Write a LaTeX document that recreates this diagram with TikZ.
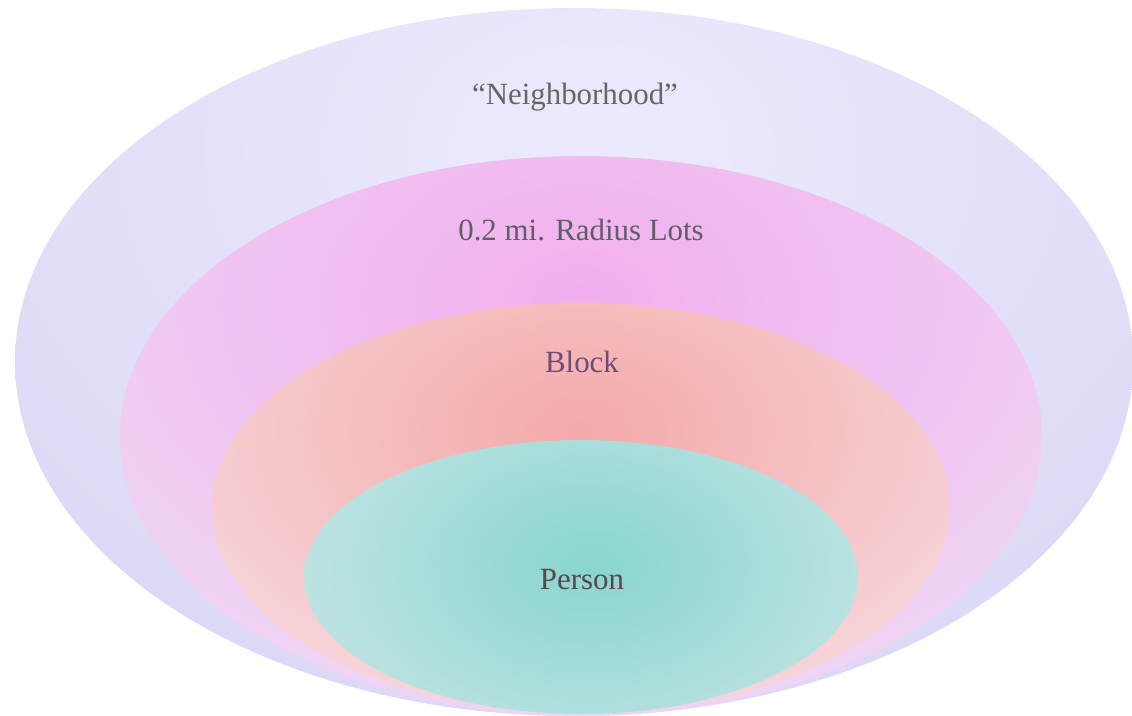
\documentclass[tikz,border=0pt]{standalone}
\usepackage{fontspec}
\setmainfont{Liberation Serif}
\definecolor{nbE}{HTML}{D3D0F2}
\definecolor{nbC}{HTML}{ECEBFD}
\definecolor{rlE}{HTML}{EEDFF6}
\definecolor{rlC}{HTML}{F2AEEE}
\definecolor{blE}{HTML}{F7E5EB}
\definecolor{blC}{HTML}{F4A9A8}
\definecolor{peE}{HTML}{E8EEF0}
\definecolor{peC}{HTML}{88D5D0}
\definecolor{tGray}{HTML}{666666}
\definecolor{tGray2}{HTML}{5E5E66}
\definecolor{tPurp}{HTML}{6A4E78}
\definecolor{tBrown}{HTML}{584848}
\pgfdeclareradialshading{shNb}{\pgfpoint{0bp}{0bp}}{color(0bp)=(nbC); color(25bp)=(nbE); color(50bp)=(nbE)}
\pgfdeclareradialshading{shRl}{\pgfpoint{0bp}{0bp}}{color(0bp)=(rlC); color(25bp)=(rlE); color(50bp)=(rlE)}
\pgfdeclareradialshading{shBl}{\pgfpoint{0bp}{0bp}}{color(0bp)=(blC); color(25bp)=(blE); color(50bp)=(blE)}
\pgfdeclareradialshading{shPe}{\pgfpoint{0bp}{0bp}}{color(0bp)=(peC); color(25bp)=(peE); color(50bp)=(peE)}
\tikzset{
  lbl/.style={font=\fontsize{31}{36}\selectfont, inner sep=0pt, anchor=center}
}
\begin{document}
\begin{tikzpicture}[x=1bp,y=-1bp]
\useasboundingbox (0,0) rectangle (1132,716);
% Neighborhood
\begin{scope}
  \clip (574,362) ellipse (559 and 354);
  \shade[shading=shNb] (590-1100,150-840) rectangle (590+1100,150+840);
\end{scope}
% Radius lots
\begin{scope}
  \clip (581,436) ellipse (461 and 280);
  \shade[shading=shRl] (580-780,300-540) rectangle (580+780,300+540);
\end{scope}
% Block
\begin{scope}
  \clip (581,508) ellipse (369 and 205);
  \shade[shading=shBl] (580-620,430-400) rectangle (580+620,430+400);
\end{scope}
% Person
\begin{scope}
  \clip (581,577) ellipse (277 and 137);
  \shade[shading=shPe] (592-520,565-360) rectangle (592+520,565+360);
\end{scope}
\node[lbl, text=tGray] (nb) at (575,97) {“Neighborhood”};
\node[lbl, text=tGray2] (rl) at (581,230) {0.2 mi. Radius Lots};
\node[lbl, text=tPurp] (bl) at (582,362) {Block};
\node[lbl, text=tBrown] (pe) at (582,580) {Person};
\end{tikzpicture}
\end{document}
